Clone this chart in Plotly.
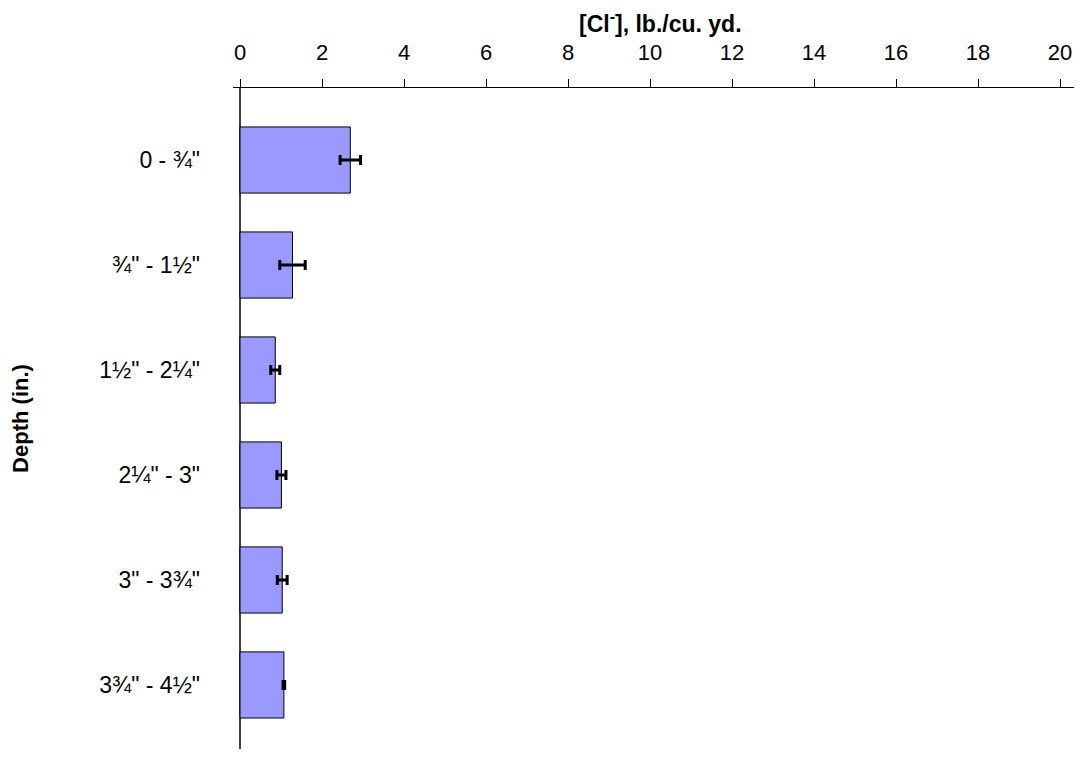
import plotly.graph_objects as go

depths = ["0 - ¾\"", "¾\" - 1½\"", "1½\" - 2¼\"", "2¼\" - 3\"", "3\" - 3¾\"", "3¾\" - 4½\""]
chloride = [2.69, 1.28, 0.86, 1.01, 1.03, 1.07]
chloride_err = [0.25, 0.31, 0.11, 0.11, 0.12, 0.02]
x_ticks = [0, 2, 4, 6, 8, 10, 12, 14, 16, 18, 20]

FONT = "Liberation Sans, Arial, sans-serif"

fig = go.Figure()
fig.add_trace(go.Bar(
    y=depths,
    x=chloride,
    orientation="h",
    marker=dict(color="#9999FF", line=dict(color="black", width=1)),
    error_x=dict(type="data", array=chloride_err, visible=True,
                 color="black", thickness=3, width=5),
    showlegend=False,
))

fig.add_annotation(
    text="<b>[Cl<sup>-</sup>], lb./cu. yd.</b>",
    xref="paper", yref="paper", x=0.5086, y=1.100,
    xanchor="center", yanchor="middle", showarrow=False,
    font=dict(size=23, family=FONT, color="black"),
)

fig.update_layout(
    width=1066, height=741,
    margin=dict(l=225, r=0, t=80, b=0),
    paper_bgcolor="white", plot_bgcolor="white",
    bargap=0.37,
    font=dict(family=FONT, size=22, color="black"),
    xaxis=dict(
        side="top", range=[-0.171, 20.34],
        automargin=False,
        tickvals=x_ticks, ticktext=[str(v) for v in x_ticks],
        showline=True, linecolor="black", linewidth=1, mirror=True,
        ticks="outside", ticklen=8, tickcolor="black", tickwidth=1,
        showgrid=False,
        zeroline=True, zerolinecolor="#404040", zerolinewidth=2,
        tickfont=dict(size=22),
        ticklabelstandoff=10,
    ),
    yaxis=dict(
        categoryorder="array", categoryarray=depths,
        range=[5.61, -0.686],
        automargin=False,
        showline=False, showgrid=False, zeroline=False,
        ticks="", tickfont=dict(size=23),
        ticklabelstandoff=32,
        title=dict(text="<b>Depth (in.)</b>", font=dict(size=22), standoff=67),
    ),
)

fig.write_html("out.html")
